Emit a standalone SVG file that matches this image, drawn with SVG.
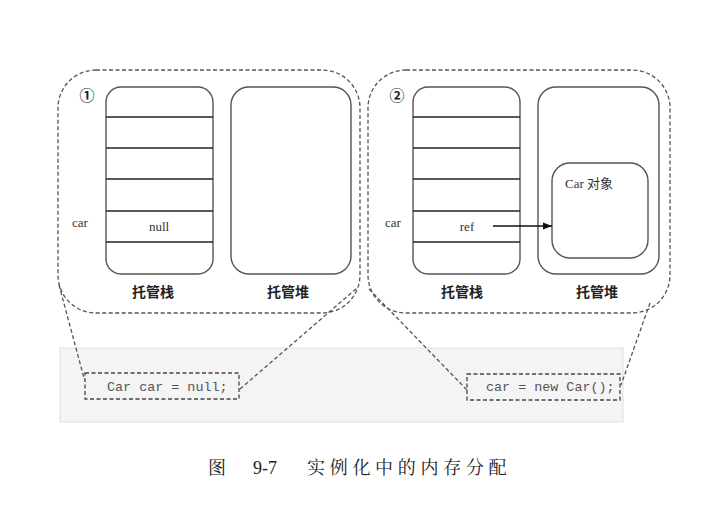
<svg xmlns="http://www.w3.org/2000/svg" width="718" height="524" viewBox="0 0 718 524">
<style>
.panel{fill:none;stroke:#555;stroke-width:1.3;stroke-dasharray:4 2.5}
.box{fill:#fff;stroke:#555;stroke-width:1.4}
.row{stroke:#222;stroke-width:1.4}
.code{fill:none;stroke:#444;stroke-width:1.3;stroke-dasharray:4 2.5}
.lbl{font-family:"Noto Sans CJK SC","Noto Sans",sans-serif;font-size:14px;font-weight:bold;fill:#222;text-anchor:middle}
.ser{font-family:"Liberation Serif",serif;font-size:13px;fill:#333}
.mono{font-family:"Liberation Mono",monospace;font-size:13.4px;fill:#555}
.num{font-family:"Noto Sans CJK SC",sans-serif;font-size:15px;font-weight:bold;fill:#222;text-anchor:middle}
.conn{fill:none;stroke:#555;stroke-width:1.3;stroke-dasharray:4 2.5}
</style>
<defs>
<marker id="ah" viewBox="0 0 10 10" refX="10" refY="5" markerWidth="9" markerHeight="9" markerUnits="userSpaceOnUse" orient="auto">
<path d="M0,1 L10,5 L0,9 z" fill="#111"/>
</marker>
</defs>
<rect id="band" x="60" y="348" width="563" height="74" fill="#f4f4f4" stroke="#dedede" stroke-width="1"/>
<g id="panel1">
<rect class="panel" x="58" y="70" width="302" height="243" rx="38"/>
<text class="num" x="87" y="101">①</text>
</g>
<g id="stack1">
<rect class="box" x="106" y="87" width="107" height="187" rx="15"/>
<line class="row" x1="106" y1="117" x2="213" y2="117"/>
<line class="row" x1="106" y1="148" x2="213" y2="148"/>
<line class="row" x1="106" y1="179" x2="213" y2="179"/>
<line class="row" x1="106" y1="211" x2="213" y2="211"/>
<line class="row" x1="106" y1="242" x2="213" y2="242"/>
<text class="ser" x="159" y="231" text-anchor="middle">null</text>
<text class="lbl" x="153" y="297">托管栈</text>
</g>
<text id="car1" class="ser" x="72" y="227">car</text>
<g id="heap1">
<rect class="box" x="231" y="87" width="120" height="187" rx="18"/>
<text class="lbl" x="288" y="297">托管堆</text>
</g>
<g id="panel2">
<rect class="panel" x="368" y="70" width="302" height="243" rx="38"/>
<text class="num" x="397" y="101">②</text>
</g>
<g id="stack2">
<rect class="box" x="413" y="87" width="107" height="187" rx="15"/>
<line class="row" x1="413" y1="117" x2="520" y2="117"/>
<line class="row" x1="413" y1="148" x2="520" y2="148"/>
<line class="row" x1="413" y1="179" x2="520" y2="179"/>
<line class="row" x1="413" y1="211" x2="520" y2="211"/>
<line class="row" x1="413" y1="242" x2="520" y2="242"/>
<text class="ser" x="467" y="231" text-anchor="middle">ref</text>
<text class="lbl" x="462" y="297">托管栈</text>
</g>
<text id="car2" class="ser" x="385" y="227">car</text>
<g id="heap2">
<rect class="box" x="538" y="87" width="121" height="187" rx="18"/>
<text class="lbl" x="597" y="297">托管堆</text>
</g>
<g id="carobj">
<rect class="box" x="552" y="163" width="96" height="95" rx="18"/>
<text x="565" y="188" font-family="Liberation Serif,'Noto Sans CJK SC',serif" font-size="13" fill="#333">Car 对象</text>
</g>
<g id="code1">
<rect class="code" x="85" y="373" width="154" height="26"/>
<text class="mono" x="107" y="391">Car car = null;</text>
</g>
<g id="code2">
<rect class="code" x="467" y="374" width="153" height="26"/>
<text class="mono" x="486" y="391">car = new Car();</text>
</g>
<g id="connectors">
<line class="conn" x1="59" y1="285" x2="84" y2="378"/>
<line class="conn" x1="240" y1="389" x2="357" y2="288"/>
<line class="conn" x1="369" y1="289" x2="467" y2="390"/>
<line class="conn" x1="650" y1="303" x2="621" y2="385"/>
<line x1="493" y1="226" x2="552" y2="226" stroke="#111" stroke-width="1.3" marker-end="url(#ah)"/>
</g>
<text id="caption" y="474" font-family="'Noto Serif CJK SC','Noto Sans CJK SC',serif" font-size="18" fill="#222"><tspan x="208">图</tspan><tspan x="253" font-family="Liberation Serif,serif">9-7</tspan><tspan x="307" letter-spacing="4.7">实例化中的内存分配</tspan></text>
</svg>
